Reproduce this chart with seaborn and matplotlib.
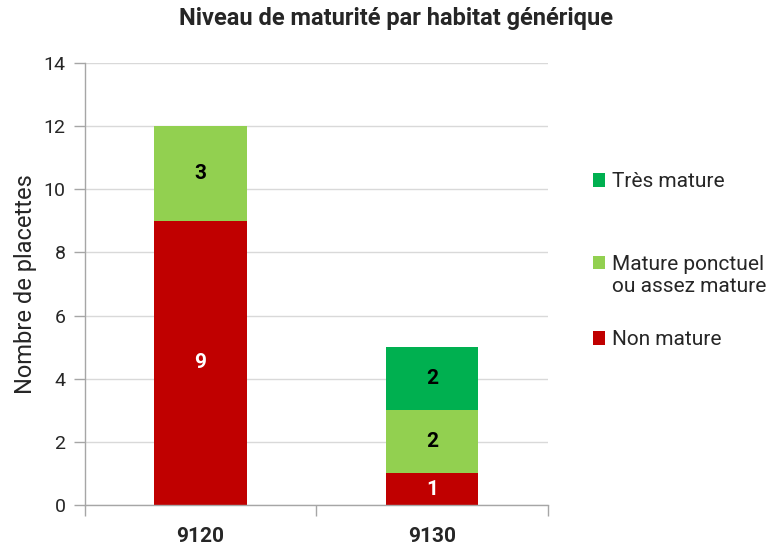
import matplotlib
matplotlib.use('Agg')
import matplotlib.pyplot as plt
import seaborn as sns
from matplotlib.patches import Patch

# Données
categories = ['9120', '9130']
non_mature = [9, 1]
mature_ponctuel = [3, 2]
tres_mature = [0, 2]

series = [
    ('Non mature', non_mature, '#C00000', 'white'),
    ('Mature ponctuel\nou assez mature', mature_ponctuel, '#92D050', 'black'),
    ('Très mature', tres_mature, '#00B050', 'black'),
]

sns.set_style('white')
plt.rcParams['font.family'] = ['Roboto', 'DejaVu Sans']

fig = plt.figure(figsize=(7.79, 5.48), dpi=100)
ax = fig.add_axes([0.109, 0.0785, 0.594, 0.8065])

bottom = [0, 0]
for name, vals, color, txt in series:
    sns.barplot(x=categories, y=vals, bottom=bottom, color=color, saturation=1,
                width=0.4, linewidth=0, ax=ax)
    cont = ax.containers[-1]
    labels = [str(v) if v > 0 else '' for v in vals]
    ax.bar_label(cont, labels=labels, label_type='center', color=txt,
                 fontsize=15, fontweight='bold')
    bottom = [b + v for b, v in zip(bottom, vals)]

ax.set_xlim(-0.5, 1.5)
ax.set_ylim(0, 14)
ax.set_yticks(range(0, 15, 2))
ax.yaxis.grid(True, color='#D9D9D9', linewidth=1)
ax.set_axisbelow(True)

for s in ['top', 'right']:
    ax.spines[s].set_visible(False)
for s in ['left', 'bottom']:
    ax.spines[s].set_color('#A6A6A6')
    ax.spines[s].set_linewidth(1)

ax.tick_params(axis='y', which='major', length=8, color='#A6A6A6', width=1,
               labelsize=14, pad=6, left=True)
ax.tick_params(axis='x', which='major', length=0, labelsize=15, pad=16)
ax.set_xticks([-0.5, 0.5, 1.5], minor=True)
ax.tick_params(axis='x', which='minor', length=8, color='#A6A6A6', width=1,
               bottom=True)
for lab in ax.get_xticklabels():
    lab.set_fontweight('bold')

ax.set_ylabel('Nombre de placettes', fontsize=17, labelpad=5)
fig.suptitle('Niveau de maturité par habitat générique', fontsize=17,
             fontweight='bold', x=0.508, y=0.988)

# Légende : une entrée par bloc, comme dans Excel
leg_y = {'Très mature': 0.668, 'Mature ponctuel\nou assez mature': 0.497,
         'Non mature': 0.380}
for name, vals, color, txt in series:
    leg = fig.legend(handles=[Patch(facecolor=color, edgecolor='none', label=name)],
                     loc='center left', bbox_to_anchor=(0.761, leg_y[name]),
                     frameon=False, fontsize=15, handlelength=0.6,
                     handleheight=0.6, handletextpad=0.33, borderpad=0,
                     borderaxespad=0)
    if '\n' in name:
        h = leg.legend_handles[0]
        h.set_y(h.get_y() + 9.5)

plt.savefig('out.png', dpi=100)
plt.close()
